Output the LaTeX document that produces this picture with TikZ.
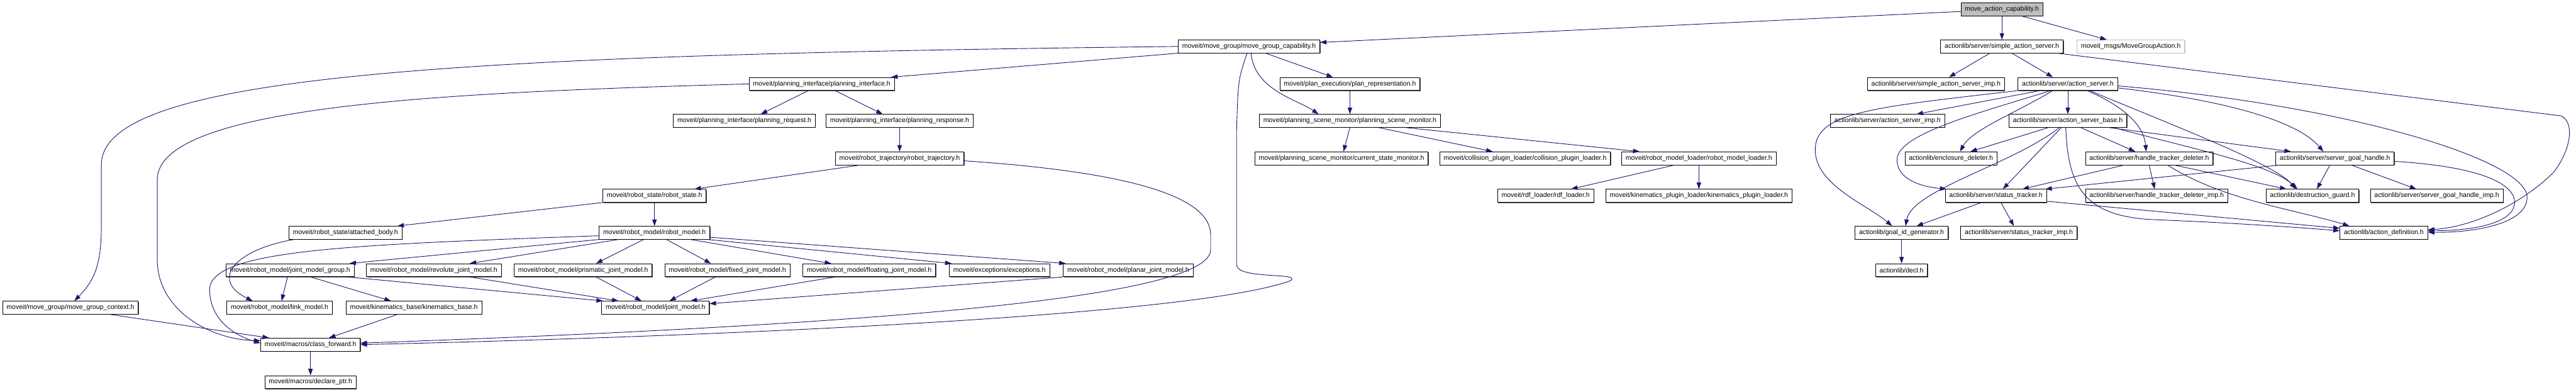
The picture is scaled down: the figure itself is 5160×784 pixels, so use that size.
\documentclass[tikz,border=0pt]{standalone}
\usepackage{fontspec}
\setmainfont{Liberation Sans}
\usepackage{xcolor}
\usepackage{tikz}
\usetikzlibrary{arrows.meta,shadows}
\definecolor{edgeblue}{RGB}{25,25,112}
\definecolor{rootgray}{RGB}{191,191,191}

\begin{document}
\begin{tikzpicture}[x=1pt,y=-1pt,
  filebox/.style={draw=black,fill=white,line width=1pt,minimum height=26pt,
    inner xsep=8pt,inner ysep=0pt,font=\fontsize{13.3}{14}\selectfont,
    drop shadow={shadow xshift=1.3pt,shadow yshift=-1.3pt,fill=black!65,opacity=1}},
  rootbox/.style={filebox,fill=rootgray},
  extbox/.style={filebox,draw=rootgray,
    drop shadow={shadow xshift=1.3pt,shadow yshift=-1.3pt,fill=black!20,opacity=1}},
  incl/.style={draw=edgeblue,line width=1.15pt,-{Triangle[length=13pt,width=9pt]}}]
  \useasboundingbox (0,0) rectangle (5160,784);
  % ---- rank 0..2
  \node[rootbox] (mac) at (4010,19) {move\_action\_capability.h};
  \node[filebox] (mgcap) at (2502,93) {moveit/move\_group/move\_group\_capability.h};
  \node[filebox] (sas) at (4010,93) {actionlib/server/simple\_action\_server.h};
  \node[extbox] (mga) at (4268,93) {moveit\_msgs/MoveGroupAction.h};
  \node[filebox] (pi) at (1646,168) {moveit/planning\_interface/planning\_interface.h};
  \node[filebox] (prep) at (2704,168) {moveit/plan\_execution/plan\_representation.h};
  \node[filebox] (sasi) at (3878,168) {actionlib/server/simple\_action\_server\_imp.h};
  \node[filebox] (asrv) at (4142,168) {actionlib/server/action\_server.h};
  % ---- rank 3..5
  \node[filebox] (preq) at (1491,242) {moveit/planning\_interface/planning\_request.h};
  \node[filebox] (presp) at (1802,242) {moveit/planning\_interface/planning\_response.h};
  \node[filebox] (psm) at (2704,242) {moveit/planning\_scene\_monitor/planning\_scene\_monitor.h};
  \node[filebox] (asi) at (3781,242) {actionlib/server/action\_server\_imp.h};
  \node[filebox] (asb) at (4142,242) {actionlib/server/action\_server\_base.h};
  \node[filebox] (rtraj) at (1802,317) {moveit/robot\_trajectory/robot\_trajectory.h};
  \node[filebox] (csm) at (2687,317) {moveit/planning\_scene\_monitor/current\_state\_monitor.h};
  \node[filebox] (cpl) at (3055,317) {moveit/collision\_plugin\_loader/collision\_plugin\_loader.h};
  \node[filebox] (rml) at (3403,317) {moveit/robot\_model\_loader/robot\_model\_loader.h};
  \node[filebox] (ed) at (3908,317) {actionlib/enclosure\_deleter.h};
  \node[filebox] (htd) at (4305,317) {actionlib/server/handle\_tracker\_deleter.h};
  \node[filebox] (sgh) at (4677,317) {actionlib/server/server\_goal\_handle.h};
  \node[filebox] (rs) at (1311,392) {moveit/robot\_state/robot\_state.h};
  \node[filebox] (rdf) at (3096,392) {moveit/rdf\_loader/rdf\_loader.h};
  \node[filebox] (kpl) at (3403,392) {moveit/kinematics\_plugin\_loader/kinematics\_plugin\_loader.h};
  \node[filebox] (st) at (3998,392) {actionlib/server/status\_tracker.h};
  \node[filebox] (htdi) at (4320,392) {actionlib/server/handle\_tracker\_deleter\_imp.h};
  \node[filebox] (dg) at (4632,392) {actionlib/destruction\_guard.h};
  \node[filebox] (sghi) at (4881,392) {actionlib/server/server\_goal\_handle\_imp.h};
  % ---- rank 6..10
  \node[filebox] (ab) at (692,466) {moveit/robot\_state/attached\_body.h};
  \node[filebox] (rm) at (1311,466) {moveit/robot\_model/robot\_model.h};
  \node[filebox] (gig) at (3809,466) {actionlib/goal\_id\_generator.h};
  \node[filebox] (sti) at (4044,466) {actionlib/server/status\_tracker\_imp.h};
  \node[filebox] (ad) at (4775,466) {actionlib/action\_definition.h};
  \node[filebox] (jmg) at (581,541) {moveit/robot\_model/joint\_model\_group.h};
  \node[filebox] (rjm) at (869,541) {moveit/robot\_model/revolute\_joint\_model.h};
  \node[filebox] (pjm) at (1168,541) {moveit/robot\_model/prismatic\_joint\_model.h};
  \node[filebox] (fjm) at (1457,541) {moveit/robot\_model/fixed\_joint\_model.h};
  \node[filebox] (fljm) at (1741,541) {moveit/robot\_model/floating\_joint\_model.h};
  \node[filebox] (exc) at (2002,541) {moveit/exceptions/exceptions.h};
  \node[filebox] (pljm) at (2260,541) {moveit/robot\_model/planar\_joint\_model.h};
  \node[filebox] (decl) at (3809,541) {actionlib/decl.h};
  \node[filebox] (mgctx) at (141,616) {moveit/move\_group/move\_group\_context.h};
  \node[filebox] (lm) at (560,616) {moveit/robot\_model/link\_model.h};
  \node[filebox] (kb) at (829,616) {moveit/kinematics\_base/kinematics\_base.h};
  \node[filebox] (jm) at (1313,616) {moveit/robot\_model/joint\_model.h};
  \node[filebox] (cf) at (622,690) {moveit/macros/class\_forward.h};
  \node[filebox] (dp) at (622,765) {moveit/macros/declare\_ptr.h};
  % ---- moveit includes
  \draw[incl] ([yshift=-4]mac.west) -- ([yshift=8]mgcap.east);
  \draw[incl] (mac.south) -- (sas.north);
  \draw[incl] ([xshift=41]mac.south) -- ([xshift=-48]mga.north);
  \draw[incl] (mgcap.west) .. controls (900,110) and (203,150) .. (203,330) -- (203,450)
    .. controls (203,530) and (190,560) .. ([xshift=8]mgctx.north);
  \draw[incl] (mgcap.south west) -- ([xshift=-7]pi.north east);
  \draw[incl] ([xshift=33]mgcap.south) -- ([xshift=-34]prep.north);
  \draw[incl] ([xshift=4]mgcap.south) .. controls (2512,180) and (2600,200) .. ([xshift=-63]psm.north);
  \draw[incl] ([xshift=-4]mgcap.south) .. controls (2480,160) .. (2477,260) -- (2477,530)
    .. controls (2477,560) and (2610,545) .. (2585,562) .. controls (2400,630) and (1500,672) .. (cf.east);
  \draw[incl] ([xshift=-27]pi.south) -- ([xshift=33]preq.north);
  \draw[incl] ([xshift=27]pi.south) -- ([xshift=-34]presp.north);
  \draw[incl] (pi.west) .. controls (900,185) and (315,210) .. (315,360) -- (315,520)
    .. controls (315,620) and (420,680) .. ([yshift=8]cf.west);
  \draw[incl] (presp.south) -- (rtraj.north);
  \draw[incl] ([xshift=-79]rtraj.south) -- ([xshift=80]rs.north);
  \draw[incl] ([yshift=-5]rtraj.east) .. controls (2200,340) and (2425,380) .. (2425,470) -- (2425,500)
    .. controls (2425,600) and (1700,652) .. ([yshift=3]cf.east);
  \draw[incl] (rs.south west) -- ([xshift=104]ab.north);
  \draw[incl] (rs.south) -- (rm.north);
  \draw[incl] ([xshift=-103]ab.south) .. controls (470,500) and (420,560) .. ([xshift=-54]lm.north);
  \draw[incl] ([yshift=-6]rm.west) .. controls (700,490) and (420,500) .. (420,580)
    .. controls (420,640) and (470,672) .. ([yshift=3]cf.west);
  \draw[incl] (rm.south west) -- ([xshift=119]jmg.north);
  \draw[incl] ([xshift=-72]rm.south) -- ([xshift=72]rjm.north);
  \draw[incl] ([xshift=-22]rm.south) -- ([xshift=26]pjm.north);
  \draw[incl] ([xshift=24]rm.south) -- ([xshift=-33]fjm.north);
  \draw[incl] ([xshift=72]rm.south) -- ([xshift=-76]fljm.north);
  \draw[incl] ([xshift=-5]rm.south east) -- ([xshift=5]exc.north west);
  \draw[incl] ([yshift=-9]rm.east) -- ([xshift=5]pljm.north west);
  \draw[incl] ([xshift=-5]jmg.south) -- ([xshift=4]lm.north);
  \draw[incl] ([xshift=41]jmg.south) -- ([xshift=-46]kb.north);
  \draw[incl] ([xshift=115]jmg.south) -- ([xshift=3]jm.north west);
  \draw[incl] ([xshift=72]rjm.south) -- ([xshift=-74]jm.north);
  \draw[incl] ([xshift=26]pjm.south) -- ([xshift=-28]jm.north);
  \draw[incl] ([xshift=-24]fjm.south) -- ([xshift=28]jm.north);
  \draw[incl] ([xshift=-68]fljm.south) -- ([xshift=70]jm.north);
  \draw[incl] (pljm.south west) -- ([yshift=8]jm.east);
  \draw[incl] ([xshift=79]mgctx.south) -- ([xshift=-83]cf.north);
  \draw[incl] ([xshift=-33]kb.south) -- ([xshift=37]cf.north);
  \draw[incl] (cf.south) -- (dp.north);
  \draw[incl] (prep.south) -- (psm.north);
  \draw[incl] (psm.south) -- ([xshift=4]csm.north);
  \draw[incl] ([xshift=58]psm.south) -- ([xshift=-65]cpl.north);
  \draw[incl] ([xshift=112]psm.south) -- ([xshift=-119]rml.north);
  \draw[incl] ([xshift=-49]rml.south) -- ([xshift=51]rdf.north);
  \draw[incl] (rml.south) -- (kpl.north);
  % ---- actionlib includes
  \draw[incl] ([xshift=-24]sas.south) -- ([xshift=26]sasi.north);
  \draw[incl] ([xshift=20]sas.south) -- ([xshift=-30]asrv.north);
  \draw[incl] ([xshift=111]sas.south) -- (5130,232) .. controls (5158,245) and (5150,300) .. (5115,345)
    .. controls (5050,410) and (4950,455) .. ([yshift=6]ad.east);
  \draw[incl] (asrv.south west) .. controls (3750,215) and (3636,225) .. (3636,300)
    .. controls (3636,370) and (3740,410) .. ([xshift=-19]gig.north);
  \draw[incl] ([xshift=-56]asrv.south) -- ([xshift=58]asi.north);
  \draw[incl] ([xshift=-34]asrv.south) .. controls (3950,230) and (3800,270) .. (3800,320)
    .. controls (3800,360) and (3850,374) .. ([xshift=3]st.north west);
  \draw[incl] ([xshift=-30]asrv.south) .. controls (4030,230) and (3950,260) .. ([xshift=18]ed.north);
  \draw[incl] (asrv.south) -- (asb.north);
  \draw[incl] ([xshift=39]asrv.south) .. controls (4270,220) and (4295,260) .. ([xshift=-6]htd.north);
  \draw[incl] ([xshift=44]asrv.south) .. controls (4350,250) and (4560,330) .. ([xshift=-34]dg.north);
  \draw[incl] ([yshift=-8]asrv.east) .. controls (4450,200) and (4600,240) .. ([xshift=-23]sgh.north);
  \draw[incl] ([yshift=-4]asrv.east) .. controls (4700,210) and (5062,320) .. (5062,395)
    .. controls (5062,450) and (4950,466) .. ([yshift=1]ad.east);
  \draw[incl] ([xshift=-39]asb.south) -- ([xshift=39]ed.north);
  \draw[incl] ([xshift=-13]asb.south) -- ([xshift=14]st.north);
  \draw[incl] ([xshift=-17]asb.south) .. controls (4030,330) and (3830,380) .. ([xshift=8]gig.north);
  \draw[incl] ([xshift=-4]asb.south) .. controls (4142,380) and (4180,435) .. (4320,440)
    .. controls (4450,445) and (4600,455) .. ([yshift=4]ad.west);
  \draw[incl] ([xshift=26]asb.south) -- ([xshift=-28]htd.north);
  \draw[incl] ([xshift=83]asb.south) -- ([xshift=-88]sgh.north);
  \draw[incl] ([xshift=92]asb.south) .. controls (4400,300) and (4550,330) .. ([xshift=-30]dg.north);
  \draw[incl] ([xshift=-50]htd.south) -- ([xshift=53]st.north);
  \draw[incl] (htd.south) -- ([xshift=-4]htdi.north);
  \draw[incl] ([xshift=50]htd.south) -- ([xshift=-52]dg.north);
  \draw[incl] ([xshift=37]htd.south) .. controls (4450,400) and (4600,420) .. ([xshift=-69]ad.north);
  \draw[incl] ([xshift=-110]sgh.south) -- ([xshift=-3]st.north east);
  \draw[incl] ([xshift=-10]sgh.south) -- ([xshift=9]dg.north);
  \draw[incl] ([xshift=33]sgh.south) -- ([xshift=-41]sghi.north);
  \draw[incl] ([yshift=-6]sgh.east) .. controls (4990,335) and (5037,375) .. (5037,405)
    .. controls (5037,448) and (4950,462) .. ([yshift=4]ad.east);
  \draw[incl] ([xshift=-29]st.south) -- ([xshift=30]gig.north);
  \draw[incl] ([xshift=10]st.south) -- ([xshift=-10]sti.north);
  \draw[incl] ([yshift=-11]st.east) -- ([yshift=9]ad.west);
  \draw[incl] (gig.south) -- (decl.north);
\end{tikzpicture}
\end{document}
